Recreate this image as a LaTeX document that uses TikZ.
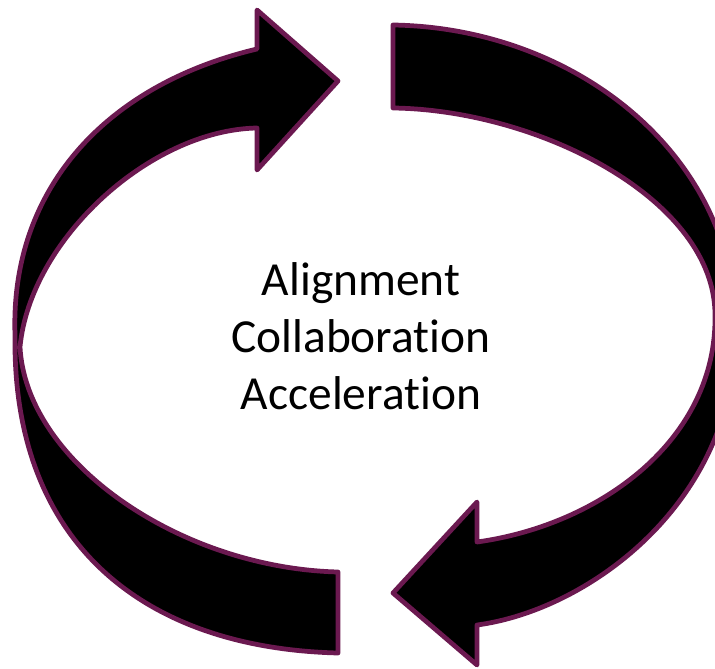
\documentclass[tikz,border=0pt]{standalone}
\usepackage{fontspec}
\setmainfont{Carlito}[Ligatures=NoCommon]
\usepackage{xcolor}
\usepackage{tikz}
\usetikzlibrary{positioning}

\definecolor{plum}{RGB}{107,25,80}

\begin{document}
\begin{tikzpicture}[
        x=0.02cm, y=-0.02cm,
        bigarrow/.style={fill=black, draw=plum, line width=2.7pt, line join=round},
        cycletext/.style={align=center, font=\fontsize{27}{32.3}\selectfont}
    ]
    \useasboundingbox (0,0) rectangle (715,668);
    \clip (0,0) rectangle (715,668);

    % left arrow, tail at the bottom, head pointing right at the top
    \draw[bigarrow] (338,653) -- (338,572)
        .. controls (180,568) and (26,462) .. (20,347)
        .. controls (30,240) and (150,130) .. (257,128)
        -- (257,170) -- (338,81) -- (257,10) -- (257,49)
        .. controls (105,85) and (10,190) .. (15,335)
        .. controls (12,540) and (140,648) .. cycle;

    % right arrow, tail at the top, head pointing left at the bottom
    \draw[bigarrow] (393,25) -- (393,108)
        .. controls (540,110) and (715,200) .. (715,315)
        .. controls (717,440) and (600,525) .. (477,542)
        -- (477,502) -- (393,593) -- (477,665) -- (477,625)
        .. controls (590,610) and (738,500) .. (735,330)
        .. controls (738,160) and (580,28) .. cycle;

    \node[cycletext] (cycle) at (361,336) {Alignment\\Collaboration\\Acceleration};
\end{tikzpicture}
\end{document}
